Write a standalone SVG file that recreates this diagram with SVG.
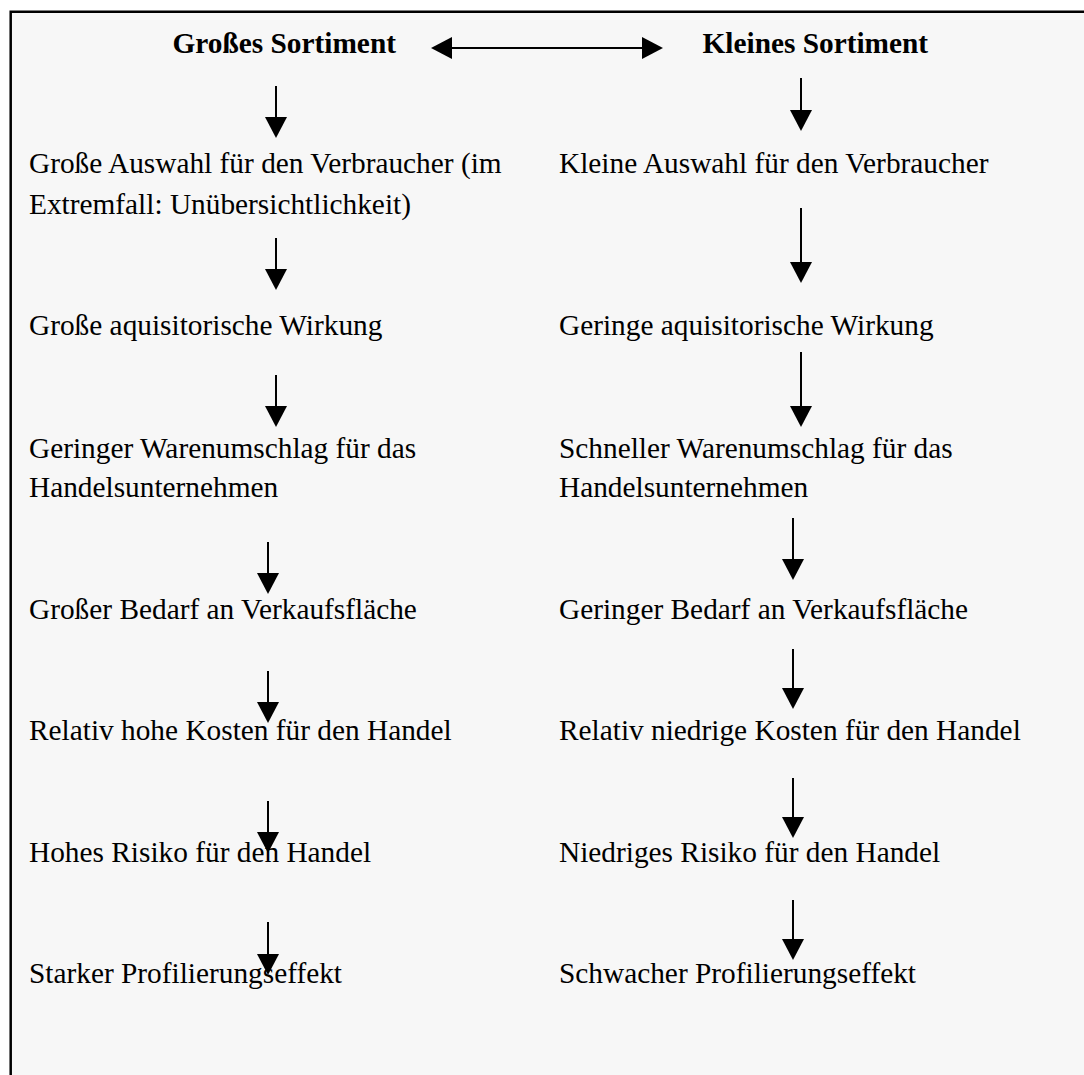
<svg xmlns="http://www.w3.org/2000/svg" width="1084" height="1075" viewBox="0 0 1084 1075">
<defs>
<style>
text{font-family:"Liberation Serif","Times New Roman",serif;font-size:29.33px;fill:#000}
.h{font-weight:bold}
.c{stroke:#000;stroke-width:2;fill:none}
</style>
<marker id="ah" markerUnits="userSpaceOnUse" markerWidth="21" markerHeight="22" viewBox="0 0 21 22" refX="1" refY="11" orient="auto-start-reverse">
<path d="M0,0 L21,11 L0,22 Z" fill="#000"/>
</marker>
</defs>
<rect x="0" y="0" width="1084" height="1075" fill="#fff"/>
<rect x="11" y="12" width="1073" height="1063" fill="#f7f7f7"/>
<path d="M10.7,1075 V11.8 H1084" fill="none" stroke="#000" stroke-width="2.5"/>
<g id="connectors">
<line class="c" x1="451" y1="48" x2="643" y2="48" marker-start="url(#ah)" marker-end="url(#ah)"/>
<line class="c" x1="276" y1="86" x2="276" y2="118" marker-end="url(#ah)"/>
<line class="c" x1="276" y1="238" x2="276" y2="270" marker-end="url(#ah)"/>
<line class="c" x1="276" y1="375" x2="276" y2="407" marker-end="url(#ah)"/>
<line class="c" x1="268" y1="542" x2="268" y2="574" marker-end="url(#ah)"/>
<line class="c" x1="268" y1="671" x2="268" y2="703" marker-end="url(#ah)"/>
<line class="c" x1="268" y1="801" x2="268" y2="833" marker-end="url(#ah)"/>
<line class="c" x1="268" y1="922" x2="268" y2="955" marker-end="url(#ah)"/>
<line class="c" x1="801" y1="78" x2="801" y2="111" marker-end="url(#ah)"/>
<line class="c" x1="801" y1="208" x2="801" y2="263" marker-end="url(#ah)"/>
<line class="c" x1="801" y1="352" x2="801" y2="407" marker-end="url(#ah)"/>
<line class="c" x1="793" y1="518" x2="793" y2="560" marker-end="url(#ah)"/>
<line class="c" x1="793" y1="649" x2="793" y2="689" marker-end="url(#ah)"/>
<line class="c" x1="793" y1="778" x2="793" y2="818" marker-end="url(#ah)"/>
<line class="c" x1="793" y1="900" x2="793" y2="940" marker-end="url(#ah)"/>
</g>
<g id="head-left"><text class="h" x="172.5" y="53">Großes Sortiment</text></g>
<g id="head-right"><text class="h" x="702.5" y="53">Kleines Sortiment</text></g>
<g id="left-1"><text x="29" y="173">Große Auswahl für den Verbraucher (im</text><text x="29" y="214">Extremfall: Unübersichtlichkeit)</text></g>
<g id="left-2"><text x="29" y="335">Große aquisitorische Wirkung</text></g>
<g id="left-3"><text x="29" y="458">Geringer Warenumschlag für das</text><text x="29" y="497">Handelsunternehmen</text></g>
<g id="left-4"><text x="29" y="619">Großer Bedarf an Verkaufsfläche</text></g>
<g id="left-5"><text x="29" y="740">Relativ hohe Kosten für den Handel</text></g>
<g id="left-6"><text x="29" y="862">Hohes Risiko für den Handel</text></g>
<g id="left-7"><text x="29" y="983">Starker Profilierungseffekt</text></g>
<g id="right-1"><text x="559" y="173">Kleine Auswahl für den Verbraucher</text></g>
<g id="right-2"><text x="559" y="335">Geringe aquisitorische Wirkung</text></g>
<g id="right-3"><text x="559" y="458">Schneller Warenumschlag für das</text><text x="559" y="497">Handelsunternehmen</text></g>
<g id="right-4"><text x="559" y="619">Geringer Bedarf an Verkaufsfläche</text></g>
<g id="right-5"><text x="559" y="740">Relativ niedrige Kosten für den Handel</text></g>
<g id="right-6"><text x="559" y="862">Niedriges Risiko für den Handel</text></g>
<g id="right-7"><text x="559" y="983">Schwacher Profilierungseffekt</text></g>
</svg>
